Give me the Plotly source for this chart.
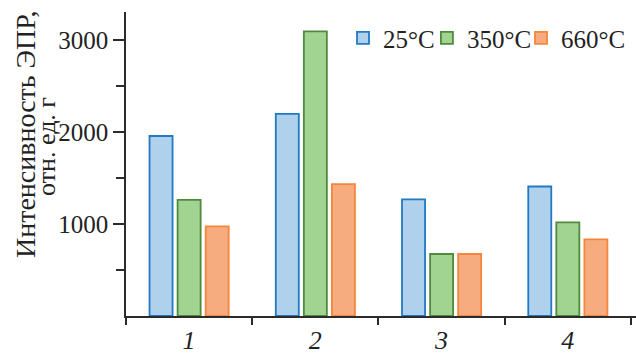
import plotly.graph_objects as go

# Sample numbers and EPR intensity (arbitrary units per gram) at three temperatures
samples = ["1", "2", "3", "4"]
temps = ["25°C", "350°C", "660°C"]
intensity_25 = [1960, 2200, 1270, 1410]
intensity_350 = [1265, 3100, 675, 1020]
intensity_660 = [975, 1435, 675, 835]

fills = ["#AFD1EC", "#A1D490", "#F6AC7E"]
edges = ["#2179C4", "#4F8A3F", "#F5863C"]

L, R, T, B = 126, 0, 12, 39
W, H = 636, 355
pw, ph = W - L - R, H - T - B

serif = "'Liberation Serif', 'Times New Roman', Tinos, serif"
axis_col = "#2b2b2b"

# each temperature gets its own one-entry legend so the entries can sit close together
legend_ids = ["legend", "legend2", "legend3"]
legend_x = [0.4255, 0.590, 0.7745]

fig = go.Figure()
for name, vals, fc, ec, lg in zip(temps, [intensity_25, intensity_350, intensity_660],
                                  fills, edges, legend_ids):
    fig.add_trace(go.Bar(
        x=samples, y=vals, name=name, legend=lg,
        marker=dict(color=fc, line=dict(color=ec, width=1.8)),
    ))

legend_style = dict(
    orientation="h", xanchor="left", y=0.914, yanchor="middle",
    font=dict(family=serif, size=25, color="#222"),
    bgcolor="rgba(0,0,0,0)", itemwidth=30,
)

fig.update_layout(
    width=W, height=H,
    margin=dict(l=L, r=R, t=T, b=B, pad=0, autoexpand=False),
    paper_bgcolor="white", plot_bgcolor="white",
    barmode="group", bargap=0.333, bargroupgap=0.18,
    font=dict(family=serif, size=25, color="#222"),
    showlegend=True,
    legend=dict(x=legend_x[0], **legend_style),
    legend2=dict(x=legend_x[1], **legend_style),
    legend3=dict(x=legend_x[2], **legend_style),
    xaxis=dict(
        type="category", range=[-0.5, 3.54],
        showline=True, linecolor=axis_col, linewidth=1.6,
        ticks="outside", tickson="boundaries", ticklen=7, tickwidth=1.6, tickcolor=axis_col,
        tickfont=dict(family=serif, size=26, style="italic", color="#222"),
        showgrid=False, zeroline=False, fixedrange=True,
    ),
    yaxis=dict(
        range=[0, 3310],
        showline=True, linecolor=axis_col, linewidth=1.6,
        ticks="outside", ticklen=11, tickwidth=1.6, tickcolor=axis_col,
        tickvals=[1000, 2000, 3000], ticktext=["1000", "2000", "3000"],
        tickfont=dict(family=serif, size=25, color="#222"),
        minor=dict(tickvals=[500, 1500, 2500], ticks="outside", ticklen=8,
                   tickwidth=1.6, tickcolor=axis_col, showgrid=False),
        showgrid=False, zeroline=False,
    ),
)

# Two-line rotated axis title, with tight line spacing
def px_x(px):
    return (px - L) / pw

def px_y(py):
    return (H - B - py) / ph

fig.add_annotation(text="Интенсивность ЭПР,", textangle=-90, showarrow=False,
                   xref="paper", yref="paper", x=px_x(25), y=px_y(135),
                   xanchor="center", yanchor="middle",
                   font=dict(family=serif, size=28, color="#222"))
fig.add_annotation(text="отн. ед. г", textangle=-90, showarrow=False,
                   xref="paper", yref="paper", x=px_x(46), y=px_y(147),
                   xanchor="center", yanchor="middle",
                   font=dict(family=serif, size=26, color="#222"))

fig.write_html("out.html")
